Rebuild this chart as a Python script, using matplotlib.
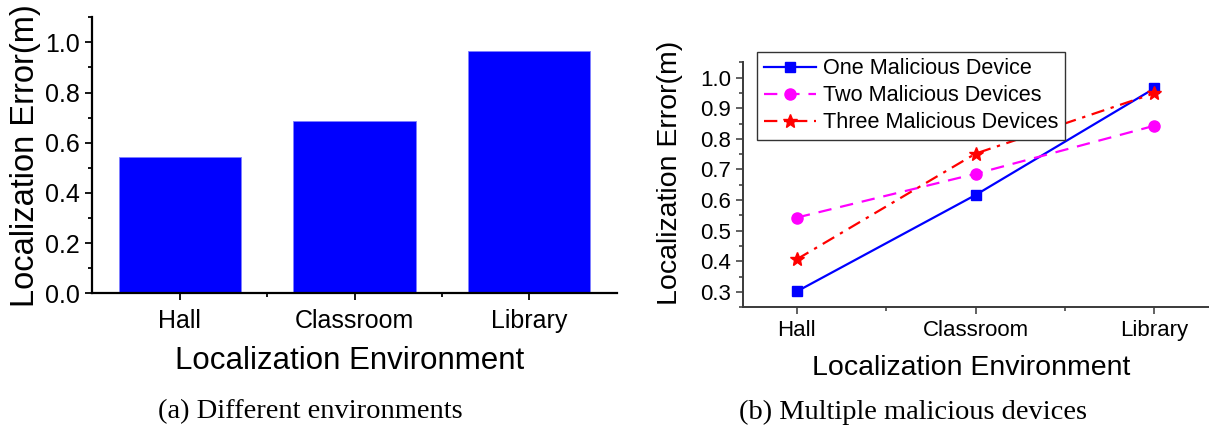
import numpy as np
import matplotlib
matplotlib.use("Agg")
import matplotlib.pyplot as plt
from matplotlib.ticker import MultipleLocator, FormatStrFormatter

# data
envs = ["Hall", "Classroom", "Library"]
env_error = [0.545, 0.688, 0.965]

one_dev = [0.302, 0.617, 0.965]
two_dev = [0.543, 0.686, 0.843]
three_dev = [0.407, 0.752, 0.949]
series_labels = ["One Malicious Device", "Two Malicious Devices", "Three Malicious Devices"]

plt.rcParams["font.family"] = ["Liberation Sans", "DejaVu Sans"]

W, H = 1209, 433
fig = plt.figure(figsize=(W / 100, H / 100), dpi=100)


def px_axes(l, t, r, b):
    return fig.add_axes([l / W, 1 - b / H, (r - l) / W, (b - t) / H])


def style(ax, color, lw, ticksize, xpad):
    for s in ["top", "right"]:
        ax.spines[s].set_visible(False)
    for s in ["left", "bottom"]:
        ax.spines[s].set_color(color)
        ax.spines[s].set_linewidth(lw)
    ax.tick_params(which="major", direction="out", length=5, width=lw * 0.8,
                   color=color, labelsize=ticksize)
    ax.tick_params(which="minor", direction="out", length=3, width=lw * 0.8, color=color)
    ax.tick_params(axis="y", pad=4)
    ax.tick_params(axis="x", which="major", pad=xpad)


# (a) bar chart
ax1 = px_axes(92.3, 17.3, 616.7, 293.3)
x = np.arange(len(envs))
ax1.bar(x, env_error, width=0.7, color="#0000ff", edgecolor="#7f7fff", linewidth=0.6)
ax1.set_xlim(-0.5, 2.5)
ax1.set_ylim(0, 1.1)
ax1.set_xticks(x)
ax1.set_xticklabels(envs)
ax1.set_xticks([0.5, 1.5], minor=True)
ax1.yaxis.set_major_locator(MultipleLocator(0.2))
ax1.yaxis.set_minor_locator(MultipleLocator(0.1))
ax1.yaxis.set_major_formatter(FormatStrFormatter("%.1f"))
style(ax1, "black", 1.6, 18, 6)
ax1.set_ylabel("Localization Error(m)", fontsize=23.5)
ax1.yaxis.label.set_va("center")
ax1.yaxis.set_label_coords(-0.128, 0.50)
ax1.set_xlabel("Localization Environment", fontsize=22.5)
ax1.xaxis.label.set_va("center")
ax1.xaxis.set_label_coords(0.49, -0.245)

# (b) line chart
ax2 = px_axes(743.3, 62.3, 1209, 307.3)
ax2.plot(x, one_dev, color="#0000ff", lw=1.6, ls="-", marker="s", ms=7,
         label=series_labels[0])
ax2.plot(x, two_dev, color="#ff00ff", lw=1.6, ls=(0, (6, 4)), marker="o", ms=8,
         label=series_labels[1])
ax2.plot(x, three_dev, color="#ff0000", lw=1.6, ls=(0, (6, 3, 1.5, 3)), marker="*", ms=10,
         label=series_labels[2])
ax2.set_xlim(-0.3, 2.305)
ax2.set_ylim(0.25, 1.05)
ax2.set_xticks(x)
ax2.set_xticklabels(envs)
ax2.set_xticks([0.5, 1.5], minor=True)
ax2.yaxis.set_major_locator(MultipleLocator(0.1))
ax2.yaxis.set_minor_locator(MultipleLocator(0.05))
ax2.yaxis.set_major_formatter(FormatStrFormatter("%.1f"))
style(ax2, "#3a3a3a", 1.4, 16, 4)
ax2.set_ylabel("Localization Error(m)", fontsize=20.5)
ax2.yaxis.label.set_va("center")
ax2.yaxis.set_label_coords(-0.157, 0.55)
ax2.set_xlabel("Localization Environment", fontsize=20.5)
ax2.xaxis.label.set_va("center")
ax2.xaxis.set_label_coords(0.49, -0.246)

leg = ax2.legend(loc="upper left", bbox_to_anchor=((757.3 - 743.3) / 465.7, (307.3 - 52) / 245),
                 fontsize=15.6, frameon=True, fancybox=False, framealpha=1,
                 edgecolor="#333333", borderpad=0.3, labelspacing=0.27,
                 handlelength=2.4, handletextpad=0.35, borderaxespad=0)
leg.get_frame().set_linewidth(1.0)

# captions
fig.text(310.8 / W, 1 - 412 / H, "(a) Different environments",
         family=["Liberation Serif", "DejaVu Serif"], fontsize=20.5, ha="center", va="center")
fig.text(913 / W, 1 - 412 / H, "(b) Multiple malicious devices",
         family=["Liberation Serif", "DejaVu Serif"], fontsize=20.5, ha="center", va="center")

fig.savefig("out.png", dpi=100)
